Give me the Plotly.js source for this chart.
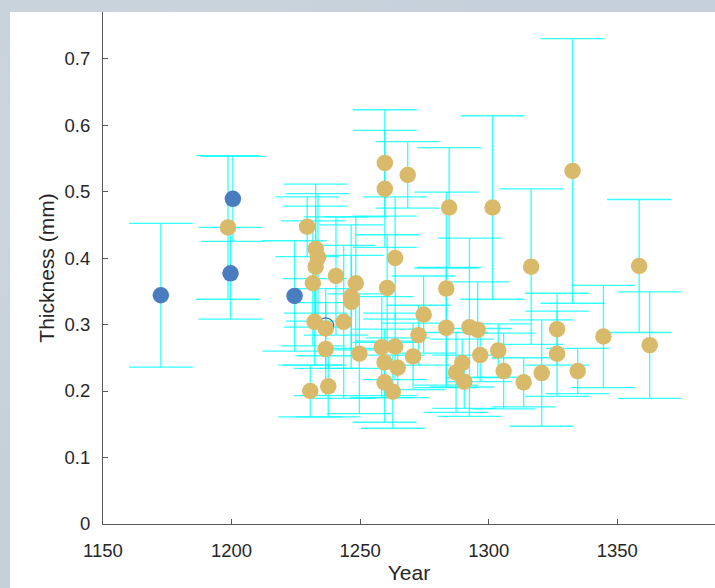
<!DOCTYPE html>
<html>
<head>
<meta charset="utf-8">
<script src="https://cdn.plot.ly/plotly-3.0.1.min.js"></script>
<style>
  html, body { margin: 0; padding: 0; width: 715px; height: 588px; overflow: hidden;
    background: #c4cfd9;
    background-image:
      radial-gradient(ellipse at 20% 30%, rgba(255,255,255,0.18), rgba(255,255,255,0) 60%),
      radial-gradient(ellipse at 80% 70%, rgba(120,140,160,0.15), rgba(120,140,160,0) 60%);
  }
  #chart { position: absolute; left: 10px; top: 12px; width: 705px; height: 576px; background: #ffffff; }
</style>
</head>
<body>
<div id="chart"></div>
<script>
// Blue series
const blueYear  = [1172.5, 1200.5, 1199.6, 1224.5];
const blueThick = [0.344, 0.489, 0.377, 0.343];
const blueErr   = [0.108, 0.064, 0.069, 0.083];

// Blue open (hollow) marker, mostly hidden behind a gold point
const blueOpenYear  = [1236.6];
const blueOpenThick = [0.298];

// Gold series
const goldYear = [
  1198.6, 1229.4, 1232.7, 1233.6, 1232.7, 1231.6, 1240.6, 1248.3, 1246.5, 1246.6,
  1232.3, 1236.6, 1243.6, 1236.6, 1249.7, 1230.6, 1237.6, 1259.6, 1268.5, 1259.6,
  1284.6, 1301.5, 1263.6, 1260.5, 1283.5, 1274.7, 1272.7, 1283.5, 1292.5, 1295.7,
  1258.4, 1263.6, 1259.5, 1264.6, 1270.6, 1259.5, 1262.7, 1289.7, 1287.3, 1290.5,
  1296.7, 1303.7, 1305.8, 1313.6, 1320.6, 1332.6, 1316.5, 1358.5, 1326.6, 1326.6,
  1334.6, 1344.6, 1362.6
];
const goldThick = [
  0.446, 0.447, 0.414, 0.401, 0.387, 0.362, 0.373, 0.362, 0.342, 0.334,
  0.304, 0.294, 0.304, 0.263, 0.256, 0.200, 0.207, 0.543, 0.525, 0.504,
  0.476, 0.476, 0.400, 0.355, 0.354, 0.315, 0.284, 0.295, 0.296, 0.292,
  0.266, 0.267, 0.243, 0.235, 0.252, 0.213, 0.199, 0.242, 0.228, 0.214,
  0.254, 0.261, 0.230, 0.213, 0.227, 0.531, 0.387, 0.388, 0.293, 0.256,
  0.230, 0.282, 0.269
];
const goldErr = [
  0.108, 0.045, 0.097, 0.096, 0.091, 0.094, 0.089, 0.100, 0.108, 0.070,
  0.065, 0.060, 0.115, 0.070, 0.090, 0.039, 0.046, 0.080, 0.050, 0.088,
  0.090, 0.138, 0.092, 0.080, 0.145, 0.058, 0.045, 0.090, 0.134, 0.072,
  0.076, 0.050, 0.050, 0.045, 0.050, 0.060, 0.055, 0.036, 0.060, 0.040,
  0.040, 0.040, 0.057, 0.037, 0.080, 0.199, 0.117, 0.100, 0.054, 0.064,
  0.034, 0.077, 0.080
];

const xTicks = [1150, 1200, 1250, 1300, 1350];
const yTicks = [0, 0.1, 0.2, 0.3, 0.4, 0.5, 0.6, 0.7];

const errStyle = { type: 'data', visible: true, color: 'rgba(0,255,255,0.8)', thickness: 1.3, width: 32 };

const traces = [
  // error bars (drawn first, behind all markers)
  { x: blueYear, y: blueThick, type: 'scatter', mode: 'markers', hoverinfo: 'skip',
    marker: { size: 1, opacity: 0 }, error_y: Object.assign({ array: blueErr }, errStyle), showlegend: false },
  { x: goldYear, y: goldThick, type: 'scatter', mode: 'markers', hoverinfo: 'skip',
    marker: { size: 1, opacity: 0 }, error_y: Object.assign({ array: goldErr }, errStyle), showlegend: false },
  // markers
  { x: blueOpenYear, y: blueOpenThick, type: 'scatter', mode: 'markers',
    marker: { symbol: 'circle-open', size: 16, color: '#3a5a9c', line: { width: 1.2 } }, showlegend: false },
  { x: blueYear, y: blueThick, type: 'scatter', mode: 'markers',
    marker: { size: 16.5, color: '#4a7dbf', line: { width: 0 } }, showlegend: false },
  { x: goldYear, y: goldThick, type: 'scatter', mode: 'markers',
    marker: { size: 16.5, color: '#d9b96a', line: { width: 0 } }, showlegend: false }
];

const axisFont = { family: 'Liberation Sans, Arial, sans-serif', size: 18.5, color: '#262626' };
const titleFont = { family: 'Liberation Sans, Arial, sans-serif', size: 21, color: '#262626' };

const layout = {
  width: 705, height: 576,
  margin: { l: 93, r: 0, t: 0, b: 64, pad: 0 },
  paper_bgcolor: '#ffffff', plot_bgcolor: '#ffffff',
  showlegend: false,
  xaxis: {
    range: [1150, 1388], tickvals: xTicks, ticktext: xTicks.map(String),
    showline: true, linecolor: '#5a5a5a', linewidth: 1,
    ticks: 'inside', ticklen: 5, tickcolor: '#5a5a5a', tickwidth: 1,
    showgrid: false, zeroline: false, tickfont: axisFont, ticklabelstandoff: 10,
    title: { text: 'Year', font: titleFont, standoff: 5 }
  },
  yaxis: {
    range: [0, 0.77], tickvals: yTicks, ticktext: yTicks.map(v => v === 0 ? '0' : v.toFixed(1)),
    showline: true, linecolor: '#5a5a5a', linewidth: 1,
    ticks: 'inside', ticklen: 5, tickcolor: '#5a5a5a', tickwidth: 1,
    showgrid: false, zeroline: false, tickfont: axisFont, ticklabelstandoff: 8,
    title: { text: 'Thickness (mm)', font: titleFont, standoff: 4 }
  }
};

Plotly.newPlot('chart', traces, layout, { displayModeBar: false, staticPlot: true });
</script>
</body>
</html>
